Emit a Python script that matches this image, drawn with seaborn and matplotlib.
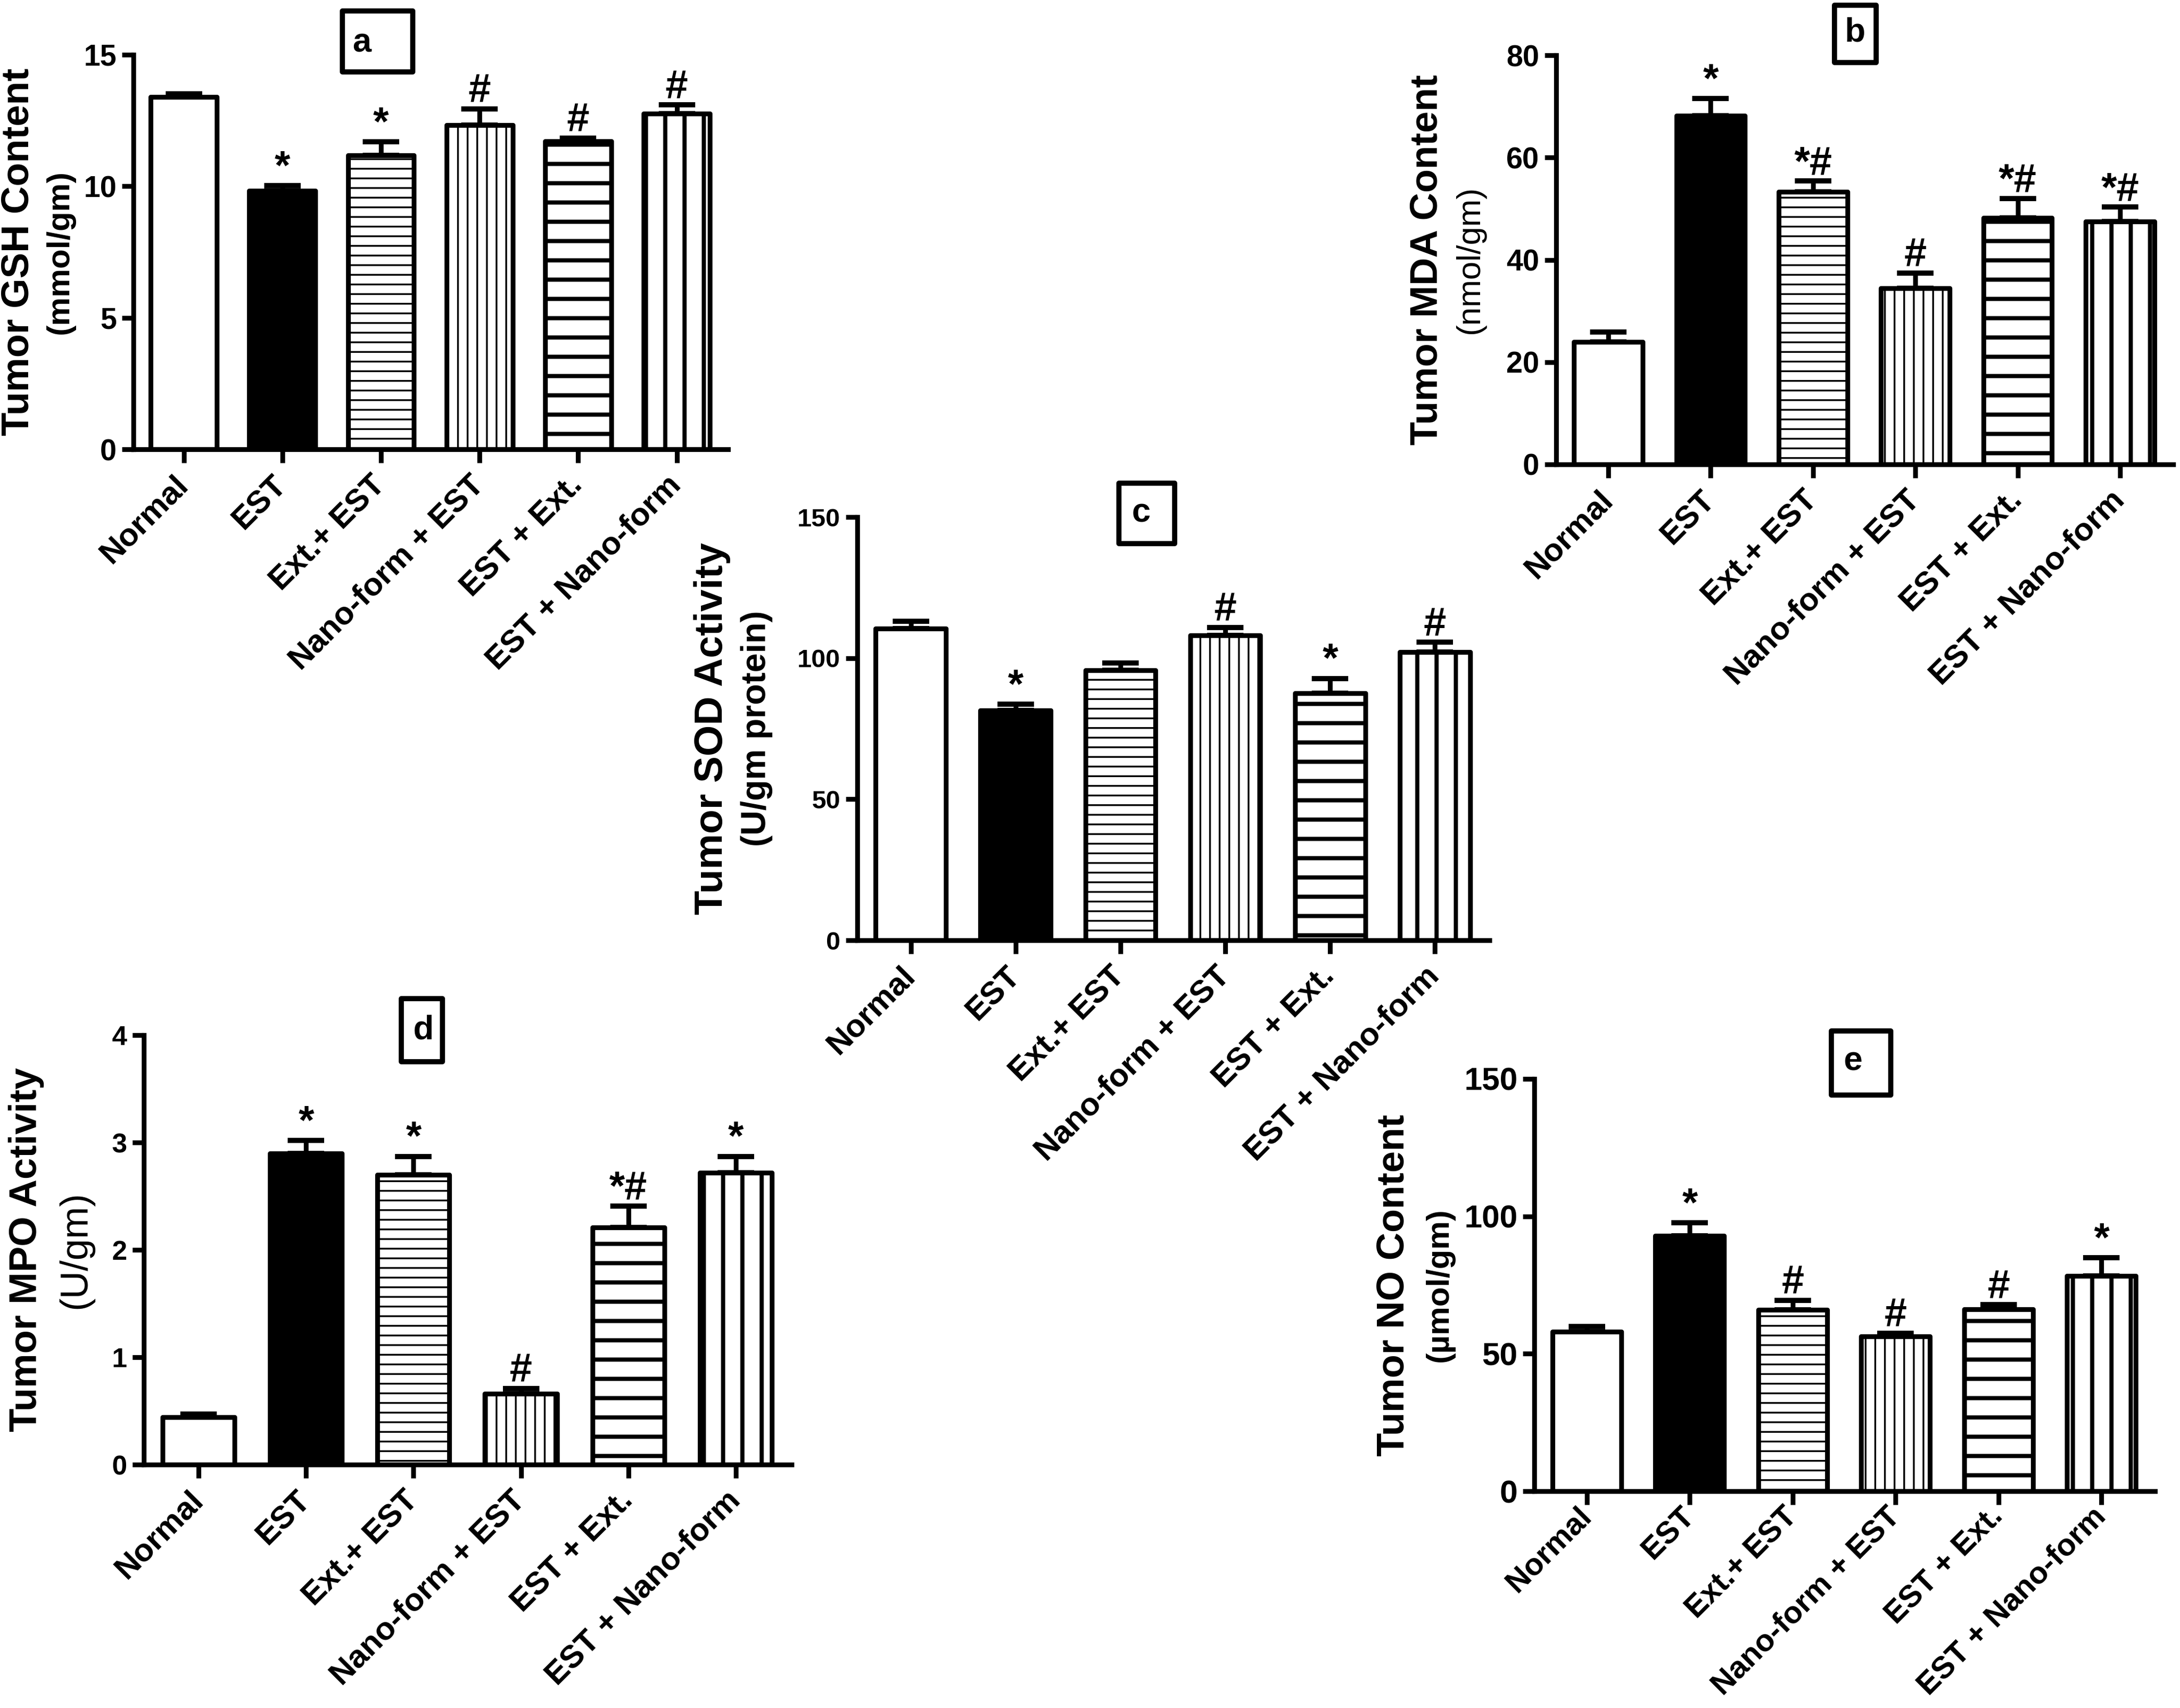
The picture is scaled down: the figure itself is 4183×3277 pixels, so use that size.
import numpy as np
import pandas as pd
import matplotlib
matplotlib.use("Agg")
import matplotlib.pyplot as plt
import matplotlib.transforms as mtransforms
import seaborn as sns
from matplotlib.patches import Rectangle

# grupos (mismos en los 5 paneles)
groups = ["Normal", "EST", "Ext.+ EST", "Nano-form + EST", "EST + Ext.", "EST + Nano-form"]

# a) GSH
gsh_mean = [13.4, 9.82, 11.17, 12.32, 11.72, 12.76]
gsh_err = [0.12, 0.2, 0.52, 0.62, 0.11, 0.33]
gsh_sig = ["", "*", "*", "#", "#", "#"]

# b) MDA
mda_mean = [23.9, 68.2, 53.3, 34.4, 48.2, 47.5]
mda_err = [2.0, 3.3, 2.1, 3.0, 3.8, 2.8]
mda_sig = ["", "*", "*#", "#", "*#", "*#"]

# c) SOD
sod_mean = [110.4, 81.5, 95.7, 108.1, 87.5, 102.1]
sod_err = [2.6, 2.2, 2.5, 2.8, 5.3, 3.5]
sod_sig = ["", "*", "", "#", "*", "#"]

# d) MPO
mpo_mean = [0.44, 2.90, 2.70, 0.66, 2.21, 2.72]
mpo_err = [0.03, 0.12, 0.17, 0.05, 0.20, 0.15]
mpo_sig = ["", "*", "*", "#", "*#", "*"]

# e) NO
no_mean = [58.0, 92.9, 65.9, 56.4, 66.2, 78.3]
no_err = [2.0, 4.7, 3.6, 1.0, 1.6, 6.6]
no_sig = ["", "*", "#", "#", "#", "*"]

DPI = 222
W, H = 4183, 3277

plt.rcParams["font.family"] = ["Liberation Sans", "DejaVu Sans"]
plt.rcParams["hatch.linewidth"] = 1.0

face = {g: ("black" if g == "EST" else "white") for g in groups}
hatches = ["", "", "--", "||", "-", "|"]
hatch_lw = [1.0, 1.0, 1.1, 1.1, 2.6, 2.6]

NARROW = ["Liberation Sans Narrow", "Liberation Sans"]
WIDE = ["Liberation Sans", "DejaVu Sans"]

# paneles: letra, datos, titulo/unidad, yticks, ejes px (l, t, r, b),
# x del titulo y de la unidad, tamanos de texto, caja px y letra px
panels = [
    dict(letter="a", means=gsh_mean, errs=gsh_err, sig=gsh_sig,
         title="Tumor GSH Content", unit="(mmol/gm)", unit_bold=True, yticks=[0, 5, 10, 15],
         axpx=(256, 105, 1397, 862), tx=35, ux=115, tsize=24, usize=20,
         tickfam=NARROW, ticksize=18.5, xsize=20, xpad=11,
         box=(657, 21, 792, 138), lpos=(694, 82)),
    dict(letter="b", means=mda_mean, errs=mda_err, sig=mda_sig,
         title="Tumor MDA Content", unit="(nmol/gm)", unit_bold=False, yticks=[0, 20, 40, 60, 80],
         axpx=(2986, 106, 4170, 891), tx=2738, ux=2821, tsize=24, usize=20.5,
         tickfam=NARROW, ticksize=18.5, xsize=20, xpad=11,
         box=(3520, 10, 3600, 120), lpos=(3560, 62)),
    dict(letter="c", means=sod_mean, errs=sod_err, sig=sod_sig,
         title="Tumor SOD Activity", unit="(U/gm protein)", unit_bold=True, yticks=[0, 50, 100, 150],
         axpx=(1645, 992, 2858, 1804), tx=1366, ux=1452, tsize=24.8, usize=21.5,
         tickfam=WIDE, ticksize=16, xsize=20, xpad=11,
         box=(2147, 927, 2254, 1043), lpos=(2189, 985)),
    dict(letter="d", means=mpo_mean, errs=mpo_err, sig=mpo_sig,
         title="Tumor MPO Activity", unit="(U/gm)", unit_bold=False, yticks=[0, 1, 2, 3, 4],
         axpx=(276, 1986, 1519, 2810), tx=51, ux=145, tsize=24, usize=24,
         tickfam=WIDE, ticksize=17, xsize=20, xpad=11,
         box=(770, 1916, 849, 2037), lpos=(812, 1976)),
    dict(letter="e", means=no_mean, errs=no_err, sig=no_sig,
         title="Tumor NO Content", unit="(\u00b5mol/gm)", unit_bold=True, yticks=[0, 50, 100, 150],
         axpx=(2944, 2070, 4135, 2861), tx=2674, ux=2762, tsize=24, usize=20,
         tickfam=NARROW, ticksize=20, xsize=19.3, xpad=4.5,
         box=(3514, 1978, 3628, 2101), lpos=(3555, 2036)),
]

fig = plt.figure(figsize=(W / DPI, H / DPI), dpi=DPI)
shift = mtransforms.ScaledTranslation(3.6 / 72, 0, fig.dpi_scale_trans)

LW = 3.0
for p in panels:
    l, t, r, b = p["axpx"]
    means, errs = p["means"], p["errs"]
    ax = fig.add_axes([l / W, 1 - b / H, (r - l) / W, (b - t) / H])
    df = pd.DataFrame({"group": groups, "value": means})
    sns.barplot(data=df, x="group", y="value", hue="group", palette=face,
                edgecolor="black", linewidth=LW, width=0.67, saturation=1,
                errorbar=None, legend=False, ax=ax)
    for patch, h, hl in zip(ax.patches, hatches, hatch_lw):
        patch.set_hatch(h)
        patch.set_joinstyle("round")
        if hasattr(patch, "set_hatch_linewidth"):
            patch.set_hatch_linewidth(hl)

    ax.errorbar(range(len(groups)), means, yerr=[np.zeros(len(groups)), errs],
                fmt="none", ecolor="black", elinewidth=LW, capsize=11.5,
                capthick=3.2, zorder=5)

    for i, (m, e, s) in enumerate(zip(means, errs, p["sig"])):
        if s:
            ax.annotate(s, xy=(i, m + e), xytext=(0, 4), textcoords="offset points",
                        ha="center", va="baseline", fontsize=25, fontweight="bold")

    yt = p["yticks"]
    ax.set_xlim(-0.51, 5.52)
    ax.set_ylim(yt[0], yt[-1])
    ax.set_yticks(yt)
    ax.set_yticklabels([str(v) for v in yt], family=p["tickfam"],
                       fontsize=p["ticksize"], fontweight="bold")
    ax.set_xticks(range(len(groups)))
    ax.set_xticklabels(groups, rotation=45, ha="right", va="center",
                       rotation_mode="anchor", fontsize=p["xsize"], fontweight="bold")
    for lab in ax.get_xticklabels():
        lab.set_transform(lab.get_transform() + shift)
    ax.set_xlabel("")
    ax.set_ylabel("")
    sns.despine(ax=ax)
    for sp in ["left", "bottom"]:
        ax.spines[sp].set_linewidth(LW)
    ax.tick_params(axis="y", width=LW, length=7, pad=3.5)
    ax.tick_params(axis="x", width=LW, length=8.5, pad=p["xpad"])

    yc = 1 - (t + b) / 2 / H
    fig.text(p["tx"] / W, yc, p["title"], rotation=90, ha="center", va="center",
             fontsize=p["tsize"], fontweight="bold")
    fig.text(p["ux"] / W, yc, p["unit"], rotation=90, ha="center", va="center",
             fontsize=p["usize"], fontweight="bold" if p["unit_bold"] else "normal")

    bl, bt, br, bb = p["box"]
    rect = Rectangle((bl / W, 1 - bb / H), (br - bl) / W, (bb - bt) / H,
                     transform=fig.transFigure, fill=False, ec="black", lw=3.2,
                     joinstyle="round")
    fig.add_artist(rect)
    fig.text(p["lpos"][0] / W, 1 - p["lpos"][1] / H, p["letter"], ha="center",
             va="center", fontsize=21, fontweight="bold")

fig.savefig("out.png", dpi=DPI, facecolor="white")
